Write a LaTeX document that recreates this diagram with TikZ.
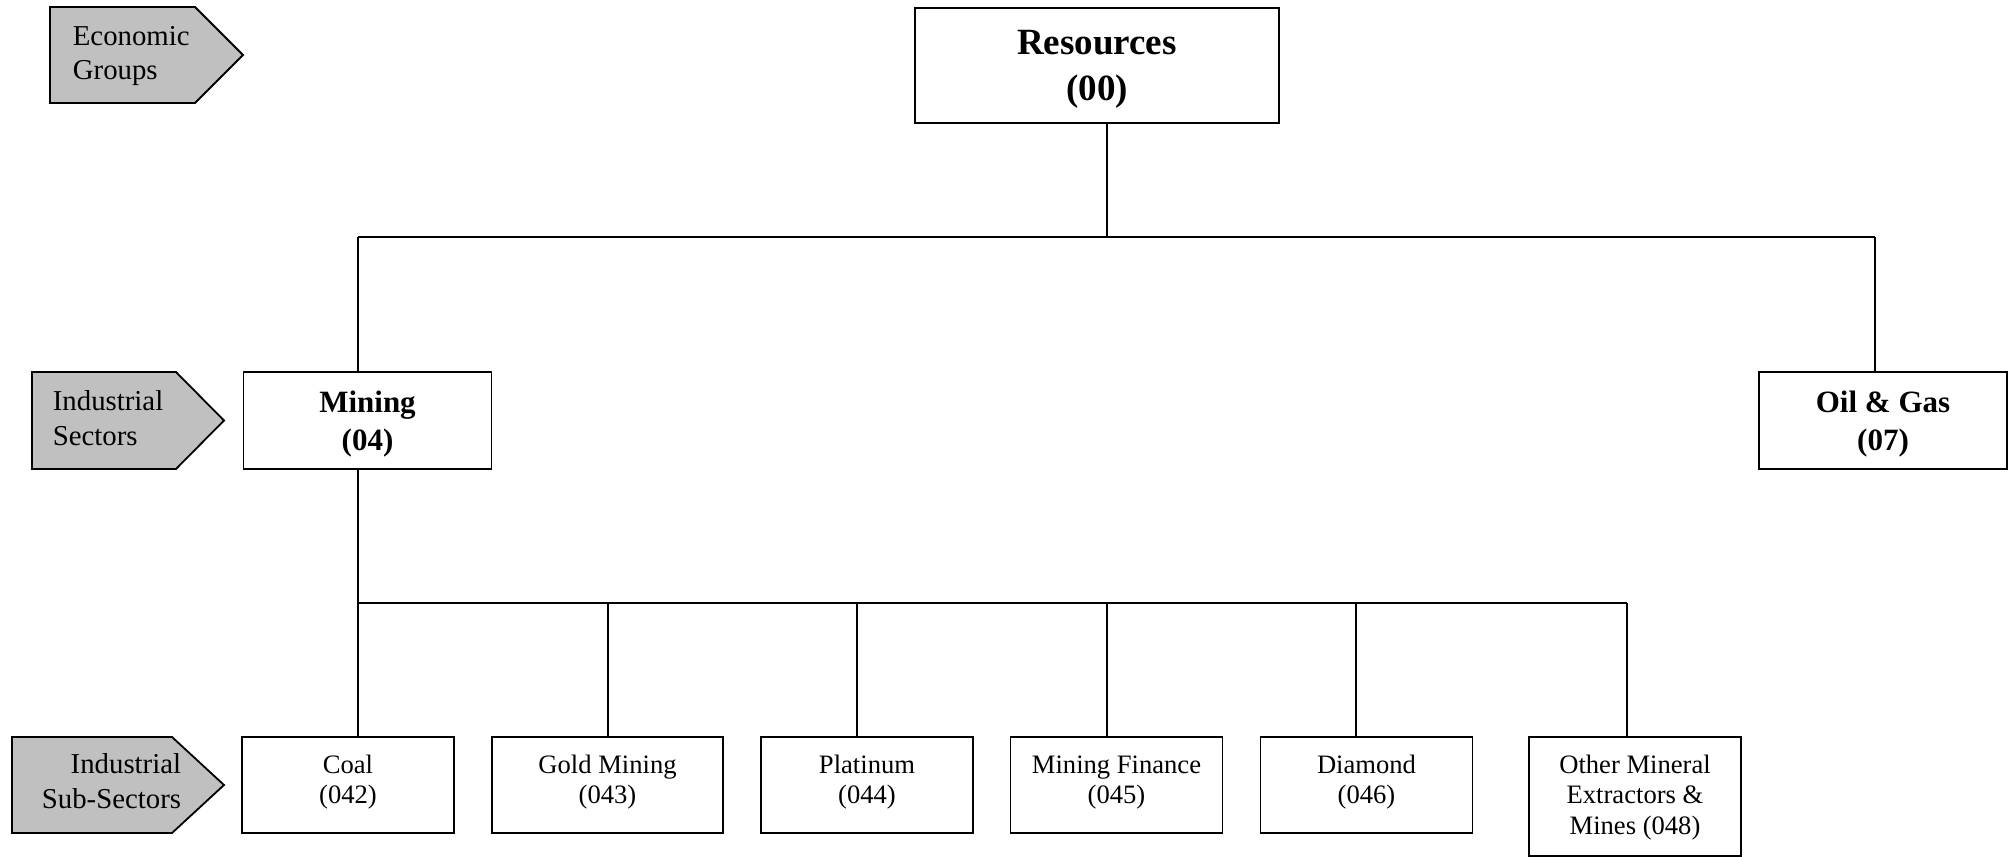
\documentclass[tikz,border=0pt]{standalone}
\usepackage{fontspec}
\setmainfont{Liberation Serif}
\definecolor{tagfill}{RGB}{192,192,192}

\begin{document}
\begin{tikzpicture}[x=0.5pt, y=-0.5pt, line width=0.9pt,
	box/.style={draw, rectangle, inner sep=0pt, align=center},
	secbox/.style={box, minimum width=124pt, minimum height=48.5pt, text depth=0pt, font=\bfseries\fontsize{15.5}{19}\selectfont},
	subbox/.style={box, minimum width=106pt, minimum height=48pt, text depth=5.5pt, font=\fontsize{13.3}{15.2}\selectfont},
	tag/.style={draw, fill=tagfill},
	taglabel/.style={inner sep=0pt, font=\fontsize{14.4}{17.3}\selectfont}]
			\useasboundingbox (0,0) rectangle (2009,857);
			% level tags
			\draw [tag] (50,7) -- (195,7) -- (243,55) -- (195,103) -- (50,103) -- cycle;
			\node [taglabel, anchor=west, align=left] (econ) at (72,56) {Economic\\Groups};
			\draw [tag] (32,372) -- (176,372) -- (224,420.5) -- (176,469) -- (32,469) -- cycle;
			\node [taglabel, anchor=west, align=left] (sect) at (52,418) {Industrial\\Sectors};
			\draw [tag] (12,737) -- (172,737) -- (224,785) -- (172,833) -- (12,833) -- cycle;
			\node [taglabel, anchor=east, align=right] (subsect) at (182,781) {Industrial\\Sub-Sectors};
			% boxes
			\node [box, minimum width=182pt, minimum height=57.5pt, text depth=0pt, font=\bfseries\fontsize{18.5}{23}\selectfont] (res) at (1097,65.5) {Resources\\(00)};
			\node [secbox] (mining) at (367.5,420.5) {Mining\\(04)};
			\node [secbox] (oil) at (1883,420.5) {Oil \& Gas\\(07)};
			\node [subbox] (coal) at (348,785) {Coal\\(042)};
			\node [subbox, minimum width=115.5pt] (gold) at (607.5,785) {Gold Mining\\(043)};
			\node [subbox] (plat) at (867,785) {Platinum\\(044)};
			\node [subbox] (fin) at (1116.5,785) {Mining Finance\\(045)};
			\node [subbox] (diam) at (1366.5,785) {Diamond\\(046)};
			\node [subbox, minimum height=59.5pt, text depth=2pt] (other) at (1635,796.5) {Other Mineral\\Extractors \&\\Mines (048)};
			% connectors
			\coordinate (top) at (1107,237);
			\coordinate (mtop) at (358,237);
			\coordinate (otop) at (1875,237);
			\draw (top |- res.south) -- (top);
			\draw (mtop) -- (otop);
			\draw (mtop) -- (mtop |- mining.north);
			\draw (otop) -- (otop |- oil.north);
			\coordinate (bl) at (358,603);
			\coordinate (br) at (1627,603);
			\draw (bl |- mining.south) -- (bl) -- (br);
			\foreach \n/\x in {coal/358, gold/608, plat/857, fin/1107, diam/1356, other/1627} {
				\coordinate (drop) at (\x,603);
				\draw [line width=0.7pt] (drop) -- (drop |- \n.north);
			}
		\end{tikzpicture}
\end{document}
